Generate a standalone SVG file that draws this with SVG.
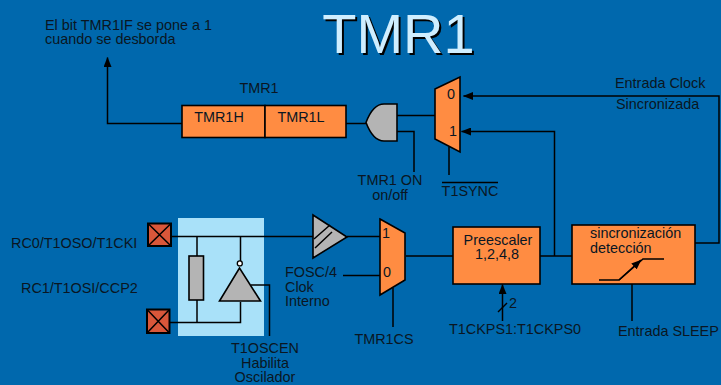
<svg xmlns="http://www.w3.org/2000/svg" width="721" height="385" viewBox="0 0 721 385">
<style>
text{font-family:"Liberation Sans",Arial,sans-serif;font-size:14.4px;fill:#0a1622}
.m{text-anchor:middle}
.o{fill:#ff8c42;stroke:#000;stroke-width:1.6}
.g{fill:#b4b4b4;stroke:#000;stroke-width:1.6}
.w{fill:none;stroke:#000;stroke-width:1.5}
.x{fill:#d9573a;stroke:#000;stroke-width:2}
.t{font-size:56px;fill:#cfeeff;text-shadow:2px 2px 0 #000}
</style>
<defs>
<marker id="a" markerUnits="userSpaceOnUse" markerWidth="10" markerHeight="8" refX="9.500" refY="4" orient="auto"><path d="M0 0L10 4L0 8Z" fill="#000"/></marker>
</defs>
<rect width="721" height="385" fill="#0068ad"/>
<rect id="oscbg" x="178" y="218" width="86" height="118" fill="#a9e1f9"/>
<g id="title"><text class="t m" x="398.500" y="53">TMR1</text></g>
<g id="connectors">
<path class="w" d="M182 123.500H107.500V57.500" marker-end="url(#a)"/>
<path class="w" d="M346 123.500H366"/>
<path class="w" d="M397 115.500H435"/>
<path class="w" d="M397 131.500H414V172"/>
<path class="w" d="M449 147V175"/>
<path class="w" d="M695 243H719V96H463.500" marker-end="url(#a)"/>
<path class="w" d="M554.500 256V131.500H461.500" marker-end="url(#a)"/>
<path class="w" d="M171 236.500H313"/>
<path class="w" d="M197 236.500V256M197 300V322.500M170 322.500H240.500V302M240.500 236.500V261"/>
<path class="w" d="M251 285H269.500V336"/>
<path class="w" d="M347 236.500H380"/>
<path class="w" d="M343 275.500H380"/>
<path class="w" d="M406 256H453"/>
<path class="w" d="M540 256H572"/>
<path class="w" d="M393 288V327"/>
<path class="w" d="M502.500 321V284.500" marker-end="url(#a)"/>
<path class="w" d="M498 312L507 303"/>
<path class="w" d="M632 284V321"/>
</g>
<g id="tmr1-reg"><rect class="o" x="182" y="105.500" width="83" height="32"/><rect class="o" x="265" y="105.500" width="81" height="32"/><text class="m" x="219" y="122">TMR1H</text><text class="m" x="301" y="122">TMR1L</text><text class="m" x="259" y="93">TMR1</text></g>
<g id="and"><path class="g" d="M397 104V141H384Q373 141 366 122.500Q373 104 384 104Z"/><text class="m" x="390" y="185">TMR1 ON</text><text class="m" x="390" y="200">on/off</text></g>
<g id="mux1"><path class="o" d="M435 89L460 77V152L435 139Z"/><text class="m" x="451" y="99">0</text><text class="m" x="453" y="136">1</text><text class="m" x="470" y="196">T1SYNC</text><path class="w" d="M442 182.500H498"/></g>
<g id="pin1"><rect class="x" x="148" y="223.500" width="23" height="22.500"/><path class="w" d="M148 223.500L171 246M171 223.500L148 246"/><text x="11" y="248">RC0/T1OSO/T1CKI</text></g>
<g id="pin2"><rect class="x" x="147" y="309.500" width="22.500" height="23.500"/><path class="w" d="M147 309.500L169.500 333M169.500 309.500L147 333"/><text x="21" y="293">RC1/T1OSI/CCP2</text></g>
<g id="resistor"><rect class="g" x="189" y="256" width="14.500" height="44"/></g>
<g id="inverter"><path class="g" d="M219.500 301L239.500 268L260.500 301Z"/><circle cx="239.800" cy="263.400" r="2.500" fill="#fff" stroke="#000" stroke-width="1.300"/><text class="m" x="265" y="353">T1OSCEN</text><text class="m" x="265" y="368">Habilita</text><text class="m" x="265" y="382">Oscilador</text></g>
<g id="buffer"><path class="g" d="M313 215L347 237L313 258Z"/><path class="w" d="M314 239L330 225M315 248L332 232"/><text x="285" y="277">FOSC/4</text><text x="285" y="292">Clok</text><text x="285" y="306">Interno</text></g>
<g id="mux2"><path class="o" d="M380 219L405 233V280L380 295Z"/><text class="m" x="386" y="238">1</text><text class="m" x="387" y="277">0</text><text class="m" x="384" y="344">TMR1CS</text></g>
<g id="prescaler"><rect class="o" x="453" y="227" width="87" height="57"/><text class="m" x="498" y="245">Preescaler</text><text class="m" x="497" y="259">1,2,4,8</text><text class="m" x="513" y="308">2</text><text class="m" x="515" y="334">T1CKPS1:T1CKPS0</text></g>
<g id="sync"><rect class="o" x="572" y="225" width="123" height="59"/><text x="590" y="238">sincronización</text><text x="590" y="253">detección</text><path class="w" d="M599 280H619L643 259H664"/><path class="w" d="M619 280L641 260" marker-end="url(#a)"/><text x="618" y="336">Entrada SLEEP</text></g>
<g id="labels"><text x="45" y="30">El bit TMR1IF se pone a 1</text><text x="45" y="44">cuando se desborda</text><text x="615" y="88">Entrada Clock</text><text x="616" y="109">Sincronizada</text></g>
</svg>
